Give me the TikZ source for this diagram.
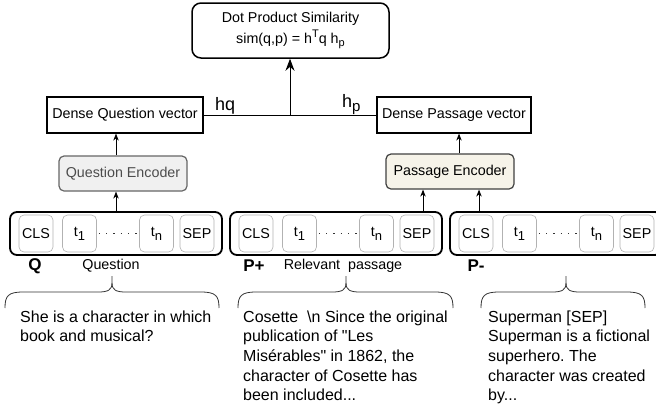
\documentclass[tikz,border=0pt]{standalone}
\usepackage{fontspec}
\setmainfont{Liberation Sans}
\usetikzlibrary{arrows.meta}
\newcommand\lowsub[3]{\raisebox{-#3pt}{\fontsize{#2}{#2}\selectfont #1}}
\newcommand\highsup[3]{\raisebox{#3pt}{\fontsize{#2}{#2}\selectfont #1}}
\newcommand\tokrow[2]{%
  \node[rowbox] (#1row) at (#2+106,233.5) {};
  \node[tok] (#1cls) at (#2+26,233.5) {CLS};
  \node[tok] (#1ta) at (#2+69.5,233.5) {t\lowsub{1}{13}{4}};
  \node[tok] (#1tn) at (#2+146.5,233.5) {t\lowsub{n}{13}{4}};
  \node[tok] (#1sep) at (#2+187,233.5) {SEP};
  \draw[dotline] (#1ta.east) -- (#1tn.west);
}
\newcommand\bracedraw[3]{%
  \draw[bracel] (#1,308) .. controls (#1,296) and (#1+3,292) .. (#1+18,292) -- (#2-14,292) .. controls (#2-4,292) and (#2,290) .. (#2,283) -- (#2,276);
  \draw[bracel] (#3,308) .. controls (#3,296) and (#3-3,292) .. (#3-18,292) -- (#2+14,292) .. controls (#2+4,292) and (#2,290) .. (#2,283);
}
\begin{document}
\frenchspacing
\begin{tikzpicture}[x=1pt,y=-1pt,
  base/.style={font=\fontsize{14.3}{16}\selectfont},
  vecbox/.style={base, draw=black, line width=1.2pt, minimum width=#1, minimum height=36pt, inner sep=0pt},
  encbox/.style={base, rounded corners=5pt, line width=1.2pt, minimum width=128pt, minimum height=35pt, inner sep=0pt},
  rowbox/.style={draw=black, rounded corners=7pt, line width=1.8pt, minimum width=212pt, minimum height=43pt, inner sep=0pt},
  tok/.style={base, draw=black!30, fill=white, rounded corners=5pt, line width=0.6pt, minimum width=34pt, minimum height=37pt, inner sep=0pt},
  dotline/.style={line width=1.3pt, dash pattern=on 1.3pt off 6pt, shorten <=2pt, shorten >=2pt, black!80},
  arr/.style={line width=0.9pt, -{Stealth[length=7pt,width=5.5pt]}},
  bigarr/.style={line width=0.9pt, -{Stealth[length=12pt,width=9pt]}},
  bracel/.style={draw=black!80, line width=0.8pt},
  tag/.style={font=\fontsize{17}{19}\selectfont\bfseries, inner sep=0pt},
  para/.style={font=\fontsize{16}{19.6}\selectfont, align=left, anchor=north west, inner sep=0pt}
]
\useasboundingbox (0,0) rectangle (656,408);
\clip (0,0) rectangle (656,408);

% top similarity box
\node[base, draw=black, line width=1.5pt, rounded corners=9pt, minimum width=197pt, minimum height=55pt, align=center, font=\fontsize{14.3}{21}\selectfont] (dot) at (290.5,30.5)
  {Dot Product Similarity\\sim(q,p) = h\highsup{T}{11}{6}q h\lowsub{p}{11}{3}};

% dense vectors
\node[vecbox=156pt] (dq) at (125,115) {Dense Question vector};
\node[vecbox=154pt] (dp) at (454,115) {Dense Passage vector};
\coordinate (j) at (290,115);
\draw[line width=0.9pt] (dq.east) -- (dp.west);
\draw[bigarr] (j) -- (j |- dot.south);
\node[font=\fontsize{18}{20}\selectfont, inner sep=0pt, anchor=base west] (hq) at (215,110) {hq};
\node[font=\fontsize{18}{20}\selectfont, inner sep=0pt, anchor=base west] (hp) at (342,107) {h\lowsub{p}{15}{4}};

% encoders
\node[encbox, draw=black!60, fill=black!6, text=black!70] (qenc) at (123,173.5) {Question Encoder};
\node[encbox, draw=black!75, fill={rgb,255:red,246;green,243;blue,233}] (penc) at (450,171.5) {Passage Encoder};

% token rows
\tokrow{q}{10}
\tokrow{p}{230}
\tokrow{n}{450}

% arrows
\draw[arr] (qrow.north) -- (qrow.north |- qenc.south);
\draw[arr] (qrow.north |- qenc.north) -- (qrow.north |- dq.south);
\coordinate (pa) at (423,0);
\coordinate (na) at (479,0);
\coordinate (pe) at (459,0);
\draw[arr] (prow.north -| pa) -- (penc.south -| pa);
\draw[arr] (nrow.north -| na) -- (penc.south -| na);
\draw[arr] (penc.north -| pe) -- (dp.south -| pe);

% labels
\node[tag] (ql) at (35,266) {Q};
\node[base, inner sep=0pt] (qt) at (111,266) {Question};
\node[tag] (pl) at (254,266) {P+};
\node[base, inner sep=0pt] (pt) at (343,266) {Relevant~~passage};
\node[tag] (nl) at (476,266) {P-};

% braces
\bracedraw{5}{112}{219}
\bracedraw{238}{346}{453}
\bracedraw{481}{566}{645}

% texts
\node[para] (qtext) at (20,310.5) {She is a character in which\\book and musical?};
\node[para] (ptext) at (243,310.5) {Cosette~~\textbackslash n Since the original\\publication of \textquotedbl Les\\Misérables\textquotedbl{} in 1862, the\\character of Cosette has\\been included...};
\node[para] (ntext) at (488,310.5) {Superman [SEP]\\Superman is a fictional\\superhero. The\\character was created\\by...};
\end{tikzpicture}
\end{document}
